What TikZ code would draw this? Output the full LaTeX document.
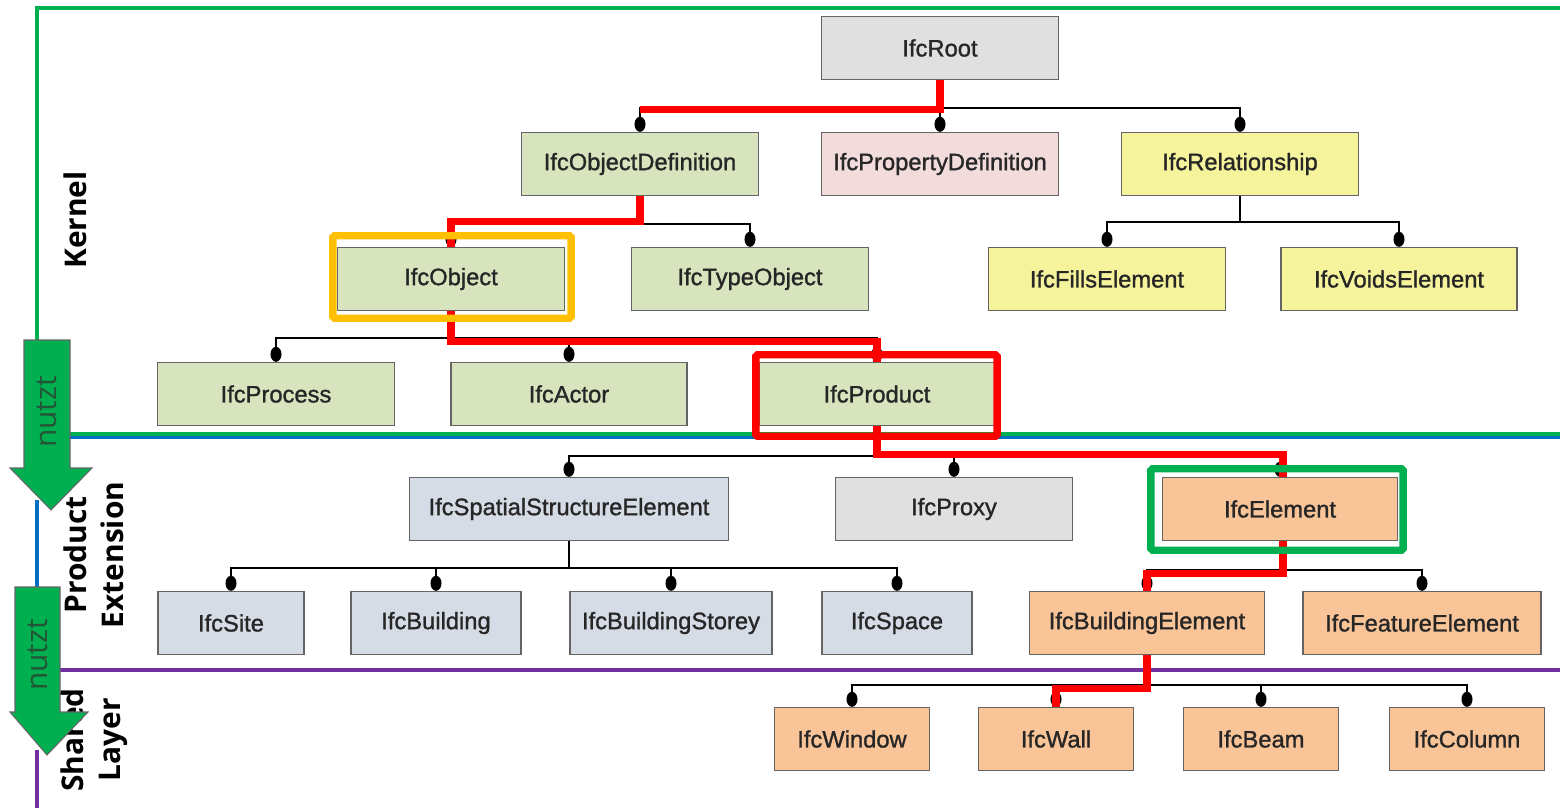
\documentclass[tikz,border=0pt]{standalone}
\usepackage{fontspec}
\setmainfont{Liberation Sans}
\newfontfamily\boxfont{Liberation Sans}[FakeBold=1.2]
\newfontfamily\layerfont{Open Sans}
\usepackage{tikz}
\usetikzlibrary{positioning,calc,arrows.meta}

\definecolor{kernelgreen}{RGB}{0,176,80}
\definecolor{prodblue}{RGB}{0,112,192}
\definecolor{sharedpurple}{RGB}{112,48,160}
\definecolor{hlred}{RGB}{255,0,0}
\definecolor{hlorange}{RGB}{255,192,0}
\definecolor{boxgray}{RGB}{100,100,100}
\definecolor{fillgray}{RGB}{224,224,224}
\definecolor{fillgreen}{RGB}{216,228,190}
\definecolor{fillpink}{RGB}{242,220,219}
\definecolor{fillyellow}{RGB}{246,243,157}
\definecolor{fillblue}{RGB}{214,220,229}
\definecolor{fillorange}{RGB}{249,196,152}
\definecolor{nutztgray}{RGB}{35,85,55}

\tikzset{
  ifc/.style={draw=boxgray, line width=0.8pt, minimum height=1.26cm, inner sep=0pt,
    text=black!85, font=\boxfont\fontsize{13.5}{16}\selectfont},
  conn/.style={draw=black, line width=1.1pt, -{Ellipse[length=0.3cm,width=0.22cm]}},
  redpath/.style={draw=hlred, line width=4pt},
  frame/.style={line width=4.2pt, rounded corners=1pt},
  layer/.style={line width=1.8pt},
  layerlabel/.style={rotate=90, align=center, font=\layerfont\bfseries\fontsize{17}{21}\selectfont},
  usearrow/.style={fill=kernelgreen, draw=black!60, line width=0.6pt},
  usetext/.style={rotate=90, text=nutztgray, font=\layerfont\fontsize{17}{20}\selectfont}
}

\begin{document}
\begin{tikzpicture}[x=0.02cm, y=-0.02cm]
\useasboundingbox (0,0) rectangle (1560,808);

% layer borders
\draw[layer, kernelgreen] (37,345) -- (37,8) -- (1560,8);
\draw[layer, kernelgreen] (70,434) -- (1560,434);
\draw[layer, prodblue] (70,437.5) -- (1560,437.5);
\draw[layer, prodblue] (37,500) -- (37,590);
\draw[layer, sharedpurple] (60,670) -- (1560,670);
\draw[layer, sharedpurple] (37,750) -- (37,808);

% layer names
\node[layerlabel] (kernel) at (75,220) {Kernel};
\node[layerlabel] (prodext) at (94,555) {Product\\Extension};
\node[layerlabel] (shared) at (94,740) {Shared\\Layer};

% "nutzt" arrows
\draw[usearrow] (24,340) -- (70,340) -- (70,468) -- (92,468) -- (51,510) -- (10,468) -- (24,468) -- cycle;
\node[usetext] (nutzt1) at (47,412) {nutzt};
\draw[usearrow] (15,587) -- (60,587) -- (60,712) -- (88,712) -- (47,755) -- (10,712) -- (15,712) -- cycle;
\node[usetext] (nutzt2) at (38,655) {nutzt};

% kernel
\node[ifc, fill=fillgray, minimum width=4.74cm] (root) at (940,48) {IfcRoot};
\node[ifc, fill=fillgreen, minimum width=4.74cm] (objdef) at (640,164) {IfcObjectDefinition};
\node[ifc, fill=fillpink, minimum width=4.74cm] (propdef) at (940,164) {IfcPropertyDefinition};
\node[ifc, fill=fillyellow, minimum width=4.74cm] (rel) at (1240,164) {IfcRelationship};
\node[ifc, fill=fillgreen, minimum width=4.54cm] (obj) at (451,279) {IfcObject};
\node[ifc, fill=fillgreen, minimum width=4.74cm] (typeobj) at (750,279) {IfcTypeObject};
\node[ifc, fill=fillyellow, minimum width=4.74cm] (fills) at (1107,279) {IfcFillsElement};
\node[ifc, fill=fillyellow, minimum width=4.72cm] (voids) at (1399,279) {IfcVoidsElement};
\node[ifc, fill=fillgreen, minimum width=4.74cm] (process) at (276,394) {IfcProcess};
\node[ifc, fill=fillgreen, minimum width=4.72cm] (actor) at (569,394) {IfcActor};
\node[ifc, fill=fillgreen, minimum width=4.7cm] (product) at (877,394) {IfcProduct};

% product extension
\node[ifc, fill=fillblue, minimum width=6.38cm] (spatial) at (569,509) {IfcSpatialStructureElement};
\node[ifc, fill=fillgray, minimum width=4.74cm] (proxy) at (954,509) {IfcProxy};
\node[ifc, fill=fillorange, minimum width=4.7cm] (element) at (1280,509) {IfcElement};
\node[ifc, fill=fillblue, minimum width=2.92cm] (site) at (231,623) {IfcSite};
\node[ifc, fill=fillblue, minimum width=3.4cm] (building) at (436,623) {IfcBuilding};
\node[ifc, fill=fillblue, minimum width=4.04cm] (storey) at (671,623) {IfcBuildingStorey};
\node[ifc, fill=fillblue, minimum width=3.0cm] (space) at (897,623) {IfcSpace};
\node[ifc, fill=fillorange, minimum width=4.7cm] (bldgel) at (1147,623) {IfcBuildingElement};
\node[ifc, fill=fillorange, minimum width=4.76cm] (featel) at (1422,623) {IfcFeatureElement};

% shared layer
\node[ifc, fill=fillorange, minimum width=3.1cm] (window) at (852,739) {IfcWindow};
\node[ifc, fill=fillorange, minimum width=3.1cm] (wall) at (1056,739) {IfcWall};
\node[ifc, fill=fillorange, minimum width=3.1cm] (beam) at (1261,739) {IfcBeam};
\node[ifc, fill=fillorange, minimum width=3.1cm] (column) at (1467,739) {IfcColumn};

% inheritance trees
\foreach \c in {objdef,propdef,rel}
  \draw[conn] (root.south) -- ++(0,28) -| (\c.north);
\foreach \c in {obj,typeobj}
  \draw[conn] (objdef.south) -- ++(0,28) -| (\c.north);
\foreach \c in {fills,voids}
  \draw[conn] (rel.south) -- ++(0,26) -| (\c.north);
\foreach \c in {process,actor,product}
  \draw[conn] (obj.south) -- ++(0,27) -| (\c.north);
\foreach \c in {spatial,proxy,element}
  \draw[conn] (product.south) -- ++(0,30) -| (\c.north);
\foreach \c in {site,building,storey,space}
  \draw[conn] (spatial.south) -- ++(0,27) -| (\c.north);
\foreach \c in {bldgel,featel}
  \draw[conn] (element.south) -- ++(0,29) -| (\c.north);
\foreach \c in {window,wall,beam,column}
  \draw[conn] (bldgel.south) -- ++(0,30) -| (\c.north);

% highlighted path
\draw[redpath] (root.south) |- ($(objdef.north)+(0,-22)$);
\draw[redpath] (objdef.south) -- ++(0,25) -| (obj.north);
\draw[redpath] (obj.south) -- ++(0,30) -| (product.north);
\draw[redpath] (product.south) -- ++(0,28) -| ($(element.north)+(3,0)$);
\draw[redpath] ($(element.south)+(3,0)$) -- ++(0,32) -| (bldgel.north);
\draw[redpath] (bldgel.south) -- ++(0,33) -| (wall.north);

% frames
\draw[frame, hlorange] ($(obj.north west)+(-4,-11)$) rectangle ($(obj.south east)+(6,7)$);
\draw[frame, hlred] ($(product.north west)+(-3,-7)$) rectangle ($(product.south east)+(2,10)$);
\draw[frame, kernelgreen] ($(element.north west)+(-11,-8)$) rectangle ($(element.south east)+(5,9)$);
\end{tikzpicture}
\end{document}
